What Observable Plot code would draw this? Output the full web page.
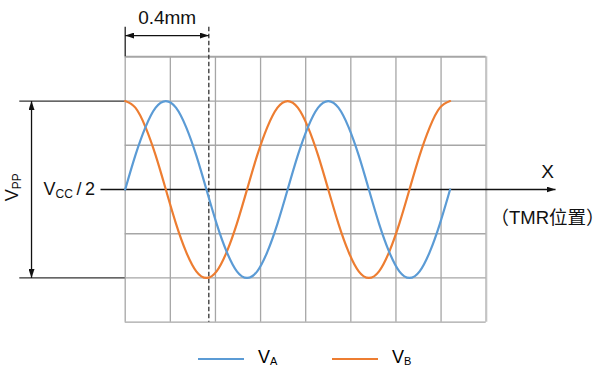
<!DOCTYPE html>
<html><head><meta charset="utf-8">
<script src="https://cdn.jsdelivr.net/npm/d3@7"></script>
<script src="https://cdn.jsdelivr.net/npm/@observablehq/plot@0.6"></script>
<style>
body{margin:0;background:#fff;font-family:"Liberation Sans",Arial,sans-serif;}
#chart svg{display:block;}
#legend{position:relative;height:29px;width:605px;overflow:visible;}
#legend .sw{position:absolute;top:18px;width:46px;height:2px;}
#legend .lb{position:absolute;top:7px;font-size:18px;line-height:20px;color:#000;white-space:nowrap;}
#legend .lb sub{font-size:11px;vertical-align:-2px;line-height:0;}
</style></head><body><div id="chart"></div><div id="legend"></div>
<script>
// x position in grid divisions, y in grid divisions (Vcc/2 = 0)
const xs = [0,0.225,0.45,0.675,0.9,1.125,1.35,1.575,1.8,2.025,2.25,2.475,2.7,2.925,3.15,3.375,3.6,3.825,4.05,4.275,4.5,4.725,4.95,5.175,5.4,5.625,5.85,6.075,6.3,6.525,6.75,6.975,7.2];
const vA = [0,0.77,1.41,1.85,2,1.85,1.41,0.77,0,-0.77,-1.41,-1.85,-2,-1.85,-1.41,-0.77,0,0.77,1.41,1.85,2,1.85,1.41,0.77,0,-0.77,-1.41,-1.85,-2,-1.85,-1.41,-0.77,0];
const vB = [2,1.85,1.41,0.77,0,-0.77,-1.41,-1.85,-2,-1.85,-1.41,-0.77,0,0.77,1.41,1.85,2,1.85,1.41,0.77,0,-0.77,-1.41,-1.85,-2,-1.85,-1.41,-0.77,0,0.77,1.41,1.85,2];
const gridX = [0,1,2,3,4,5,6,7,8];
const gridY = [-3,-2,-1,0,1,2,3];
const seriesNames = ["V|A", "V|B"];
const colors = ["#5B9BD5", "#ED7D31"];
const markerPos = 1.853;   // 0.4mm marker
const vppLevel = [2, -2];

const dataA = xs.map((x, i) => ({x, y: vA[i]}));
const dataB = xs.map((x, i) => ({x, y: vB[i]}));

const arrows = [
  {x1: -0.547, y1: 0, x2: 9.536, y2: 0, both: false},        // X axis
  {x1: -2.076, y1: 2, x2: -2.076, y2: -2, both: true},       // Vpp
  {x1: 0, y1: 3.48, x2: markerPos, y2: 3.48, both: true}     // 0.4mm
];

const plot = Plot.plot({
  width: 605, height: 340,
  marginLeft: 124.7, marginRight: 119.3, marginTop: 56.3, marginBottom: 18.3,
  x: {domain: [0, 8], axis: null},
  y: {domain: [-3, 3], axis: null},
  style: {fontFamily: "Liberation Sans, Arial, sans-serif", fontSize: "18px", background: "#fff", overflow: "visible"},
  marks: [
    Plot.ruleX(gridX.slice(0, -1), {stroke: "#a6a6a6", strokeWidth: 1.3, strokeOpacity: 1}),
    Plot.ruleX([8], {stroke: "#c4c4c4", strokeWidth: 2.2, strokeOpacity: 1}),
    Plot.ruleY(gridY.filter(d => d !== 3 && d !== 0), {stroke: "#a6a6a6", strokeWidth: 1.3, strokeOpacity: 1}),
    Plot.ruleY([3], {stroke: "#a6a6a6", strokeWidth: 2, strokeOpacity: 1}),
    // Vpp reference lines
    Plot.ruleY(vppLevel, {x1: -2.336, x2: 0, stroke: "#333", strokeWidth: 1.3}),
    // top ticks
    Plot.ruleX([0], {y1: 3.67, y2: 3, stroke: "#222", strokeWidth: 1.3}),
    Plot.ruleX([markerPos], {y1: 3.67, y2: -3, stroke: "#333", strokeWidth: 1.3, strokeDasharray: "4.5,2.5"}),
    Plot.link(arrows, {x1: "x1", y1: "y1", x2: "x2", y2: "y2", stroke: "#111", strokeWidth: 1.3}),
    Plot.line(dataB, {x: "x", y: "y", stroke: colors[1], strokeWidth: 2.2, curve: "natural"}),
    Plot.line(dataA, {x: "x", y: "y", stroke: colors[0], strokeWidth: 2.2, curve: "natural"}),
    Plot.text(["0.4mm"], {x: 0.93, y: 3.88, text: d => d, fontSize: 19, fill: "#111"}),
    Plot.text(["X"], {x: 9.36, y: 0.39, text: d => d, fontSize: 19, fill: "#111"}),
    Plot.text(["（TMR位置）"], {x: 9.36, y: -0.656, text: d => d, fontSize: 18.5, fill: "#111", fontFamily: "Liberation Sans, Noto Sans CJK SC, sans-serif"}),
    Plot.text(["V|CC|\u2009/\u20092"], {x: -1.81, y: 0, text: d => d, textAnchor: "start", fontSize: 18, fill: "#111"}),
    Plot.text(["V|PP|"], {x: -2.497, y: 0.05, text: d => d, rotate: -90, fontSize: 18, fill: "#111"})
  ]
});

const svg = d3.select(plot);
const defs = svg.insert("defs", ":first-child");
defs.append("marker").attr("id", "ah").attr("viewBox", "0 0 10 10").attr("refX", 10).attr("refY", 5)
  .attr("markerUnits", "userSpaceOnUse").attr("markerWidth", 9).attr("markerHeight", 6)
  .attr("preserveAspectRatio", "none").attr("orient", "auto-start-reverse")
  .append("path").attr("d", "M0,0L10,5L0,10z").attr("fill", "#111");

// arrowheads on the link mark
let linkPaths = Array.from(plot.querySelectorAll('g[aria-label="link"] path'));
linkPaths.forEach((p, i) => {
  p.setAttribute("marker-end", "url(#ah)");
  if (arrows[i] && arrows[i].both) p.setAttribute("marker-start", "url(#ah)");
});
// subscripts in labels
Array.from(plot.querySelectorAll("text")).forEach(node => {
  if (node.children.length > 0 || node.textContent.indexOf("|") < 0) return;
  const t = d3.select(node);
  const parts = node.textContent.split("|");
  t.text("");
  t.append("tspan").text(parts[0]);
  t.append("tspan").attr("font-size", 12).attr("dy", 3).text(parts[1]);
  if (parts[2]) t.append("tspan").attr("dy", -3).text(parts[2]);
});
document.getElementById("chart").appendChild(plot);

// legend
const leg = d3.select("#legend");
const legX = [[198, 258], [332, 392]];
seriesNames.forEach((n, i) => {
  const [a, b] = n.split("|");
  leg.append("div").attr("class", "sw").style("left", legX[i][0] + "px").style("background", colors[i]);
  leg.append("div").attr("class", "lb").style("left", legX[i][1] + "px").html(a + "<sub>" + b + "</sub>");
});
</script>
</body></html>
